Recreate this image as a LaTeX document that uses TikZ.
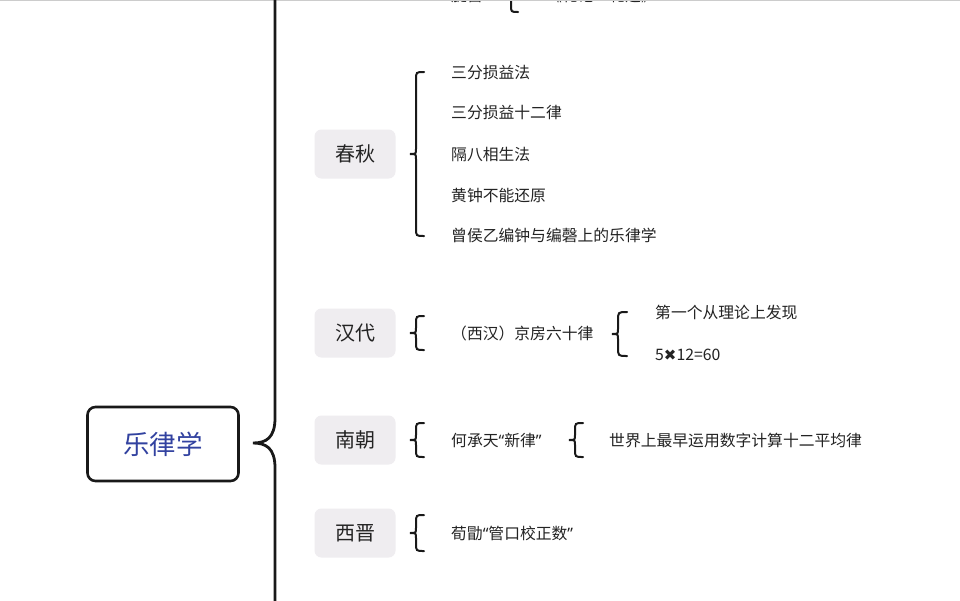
\documentclass[tikz,border=0pt]{standalone}
\usepackage{fontspec}
\setmainfont{Noto Sans CJK SC}
\newfontfamily\latinq{Noto Sans}
\newfontfamily\symf{DejaVu Sans}
\definecolor{rootblue}{RGB}{50,66,160}
\definecolor{catgray}{RGB}{239,237,240}
\definecolor{textdark}{RGB}{35,35,35}
\definecolor{linedark}{RGB}{25,25,25}
\tikzset{
  rootbox/.style={draw=linedark, line width=2.6pt, rounded corners=8pt, minimum width=151pt, minimum height=74pt, text=rootblue, font=\fontsize{26.5}{26.5}\selectfont},
  catbox/.style={fill=catgray, rounded corners=7pt, minimum width=81pt, minimum height=49pt, font=\fontsize{20}{20}\selectfont, text=textdark},
  itemtext/.style={anchor=west, font=\fontsize{15.8}{15.8}\selectfont, text=textdark, inner sep=0pt},
  bracestroke/.style={line width=2pt, line cap=round, draw=linedark},
  mainstroke/.style={line width=2.8pt, draw=linedark}
}
% #1 cusp coordinate name, #2 length up, #3 length down, #4 hook size
\newcommand{\mybrace}[4]{%
  \draw[bracestroke] ([shift={(6+#4,-#2)}]#1) .. controls ([shift={(6,-#2)}]#1) .. ([shift={(6,-#2+#4)}]#1)
    -- ([shift={(6,-5)}]#1) .. controls ([shift={(6,0)}]#1) .. (#1)
    .. controls ([shift={(6,0)}]#1) .. ([shift={(6,5)}]#1)
    -- ([shift={(6,#3-#4)}]#1) .. controls ([shift={(6,#3)}]#1) .. ([shift={(6+#4,#3)}]#1);}
\begin{document}
\begin{tikzpicture}[x=1pt,y=-1pt]
\useasboundingbox (0,0) rectangle (960,600);
\clip (0,0) rectangle (960,600);
\fill[white] (0,0) rectangle (960,600);

% top (cut off by the frame, as in the reference)
\node[itemtext] (xuangong) at (451,-5) {旋宫};
\coordinate (btop) at (505,-48);
\mybrace{btop}{60}{60}{7}
\node[itemtext] (liji) at (546,-5) {《礼记·礼运》};
\draw[black!20, line width=1.5pt] (0,0.6) -- (960,0.6);

% root
\node[rootbox] (root) at (163,444) {乐律学};

% main brace
\coordinate (mcusp) at (253,443);
\draw[mainstroke] (275,-5) -- (275,418) .. controls (275,438) and (266,443) .. (mcusp)
  .. controls (266,443) and (275,448) .. (275,468) -- (275,605);

% categories
\node[catbox] (chunqiu) at (355,154) {春秋};
\node[catbox] (handai) at (355,333) {汉代};
\node[catbox] (nanchao) at (355,440) {南朝};
\node[catbox] (xijin) at (355,533) {西晋};

% 春秋
\coordinate (bcq) at (410,154);
\mybrace{bcq}{82}{82}{8}
\node[itemtext] (cq1) at (451,73) {三分损益法};
\node[itemtext] (cq2) at (451,113) {三分损益十二律};
\node[itemtext] (cq3) at (451,154) {隔八相生法};
\node[itemtext] (cq4) at (451,195) {黄钟不能还原};
\node[itemtext] (cq5) at (451,235) {曾侯乙编钟与编磬上的乐律学};

% 汉代
\coordinate (bhd) at (410,333);
\mybrace{bhd}{17}{17}{8}
\node[itemtext] (hd1) at (451,333) {（西汉）京房六十律};
\coordinate (bhd2) at (612,334);
\mybrace{bhd2}{22}{22}{9}
\node[itemtext] (hd2) at (655,312) {第一个从理论上发现};
\node[itemtext] (hd3) at (655,355) {5{\symf\fontsize{15}{15}\selectfont ✖}12=60};

% 南朝
\coordinate (bnc) at (410,440);
\mybrace{bnc}{17}{17}{8}
\node[itemtext] (nc1) at (451,440) {何承天{\latinq “}新律{\latinq ”}};
\coordinate (bnc2) at (569,440);
\mybrace{bnc2}{17}{17}{8}
\node[itemtext] (nc2) at (609,440) {世界上最早运用数字计算十二平均律};

% 西晋
\coordinate (bxj) at (410,533);
\mybrace{bxj}{18}{18}{8}
\node[itemtext] (xj1) at (451,533) {荀勖{\latinq “}管口校正数{\latinq ”}};
\end{tikzpicture}
\end{document}
